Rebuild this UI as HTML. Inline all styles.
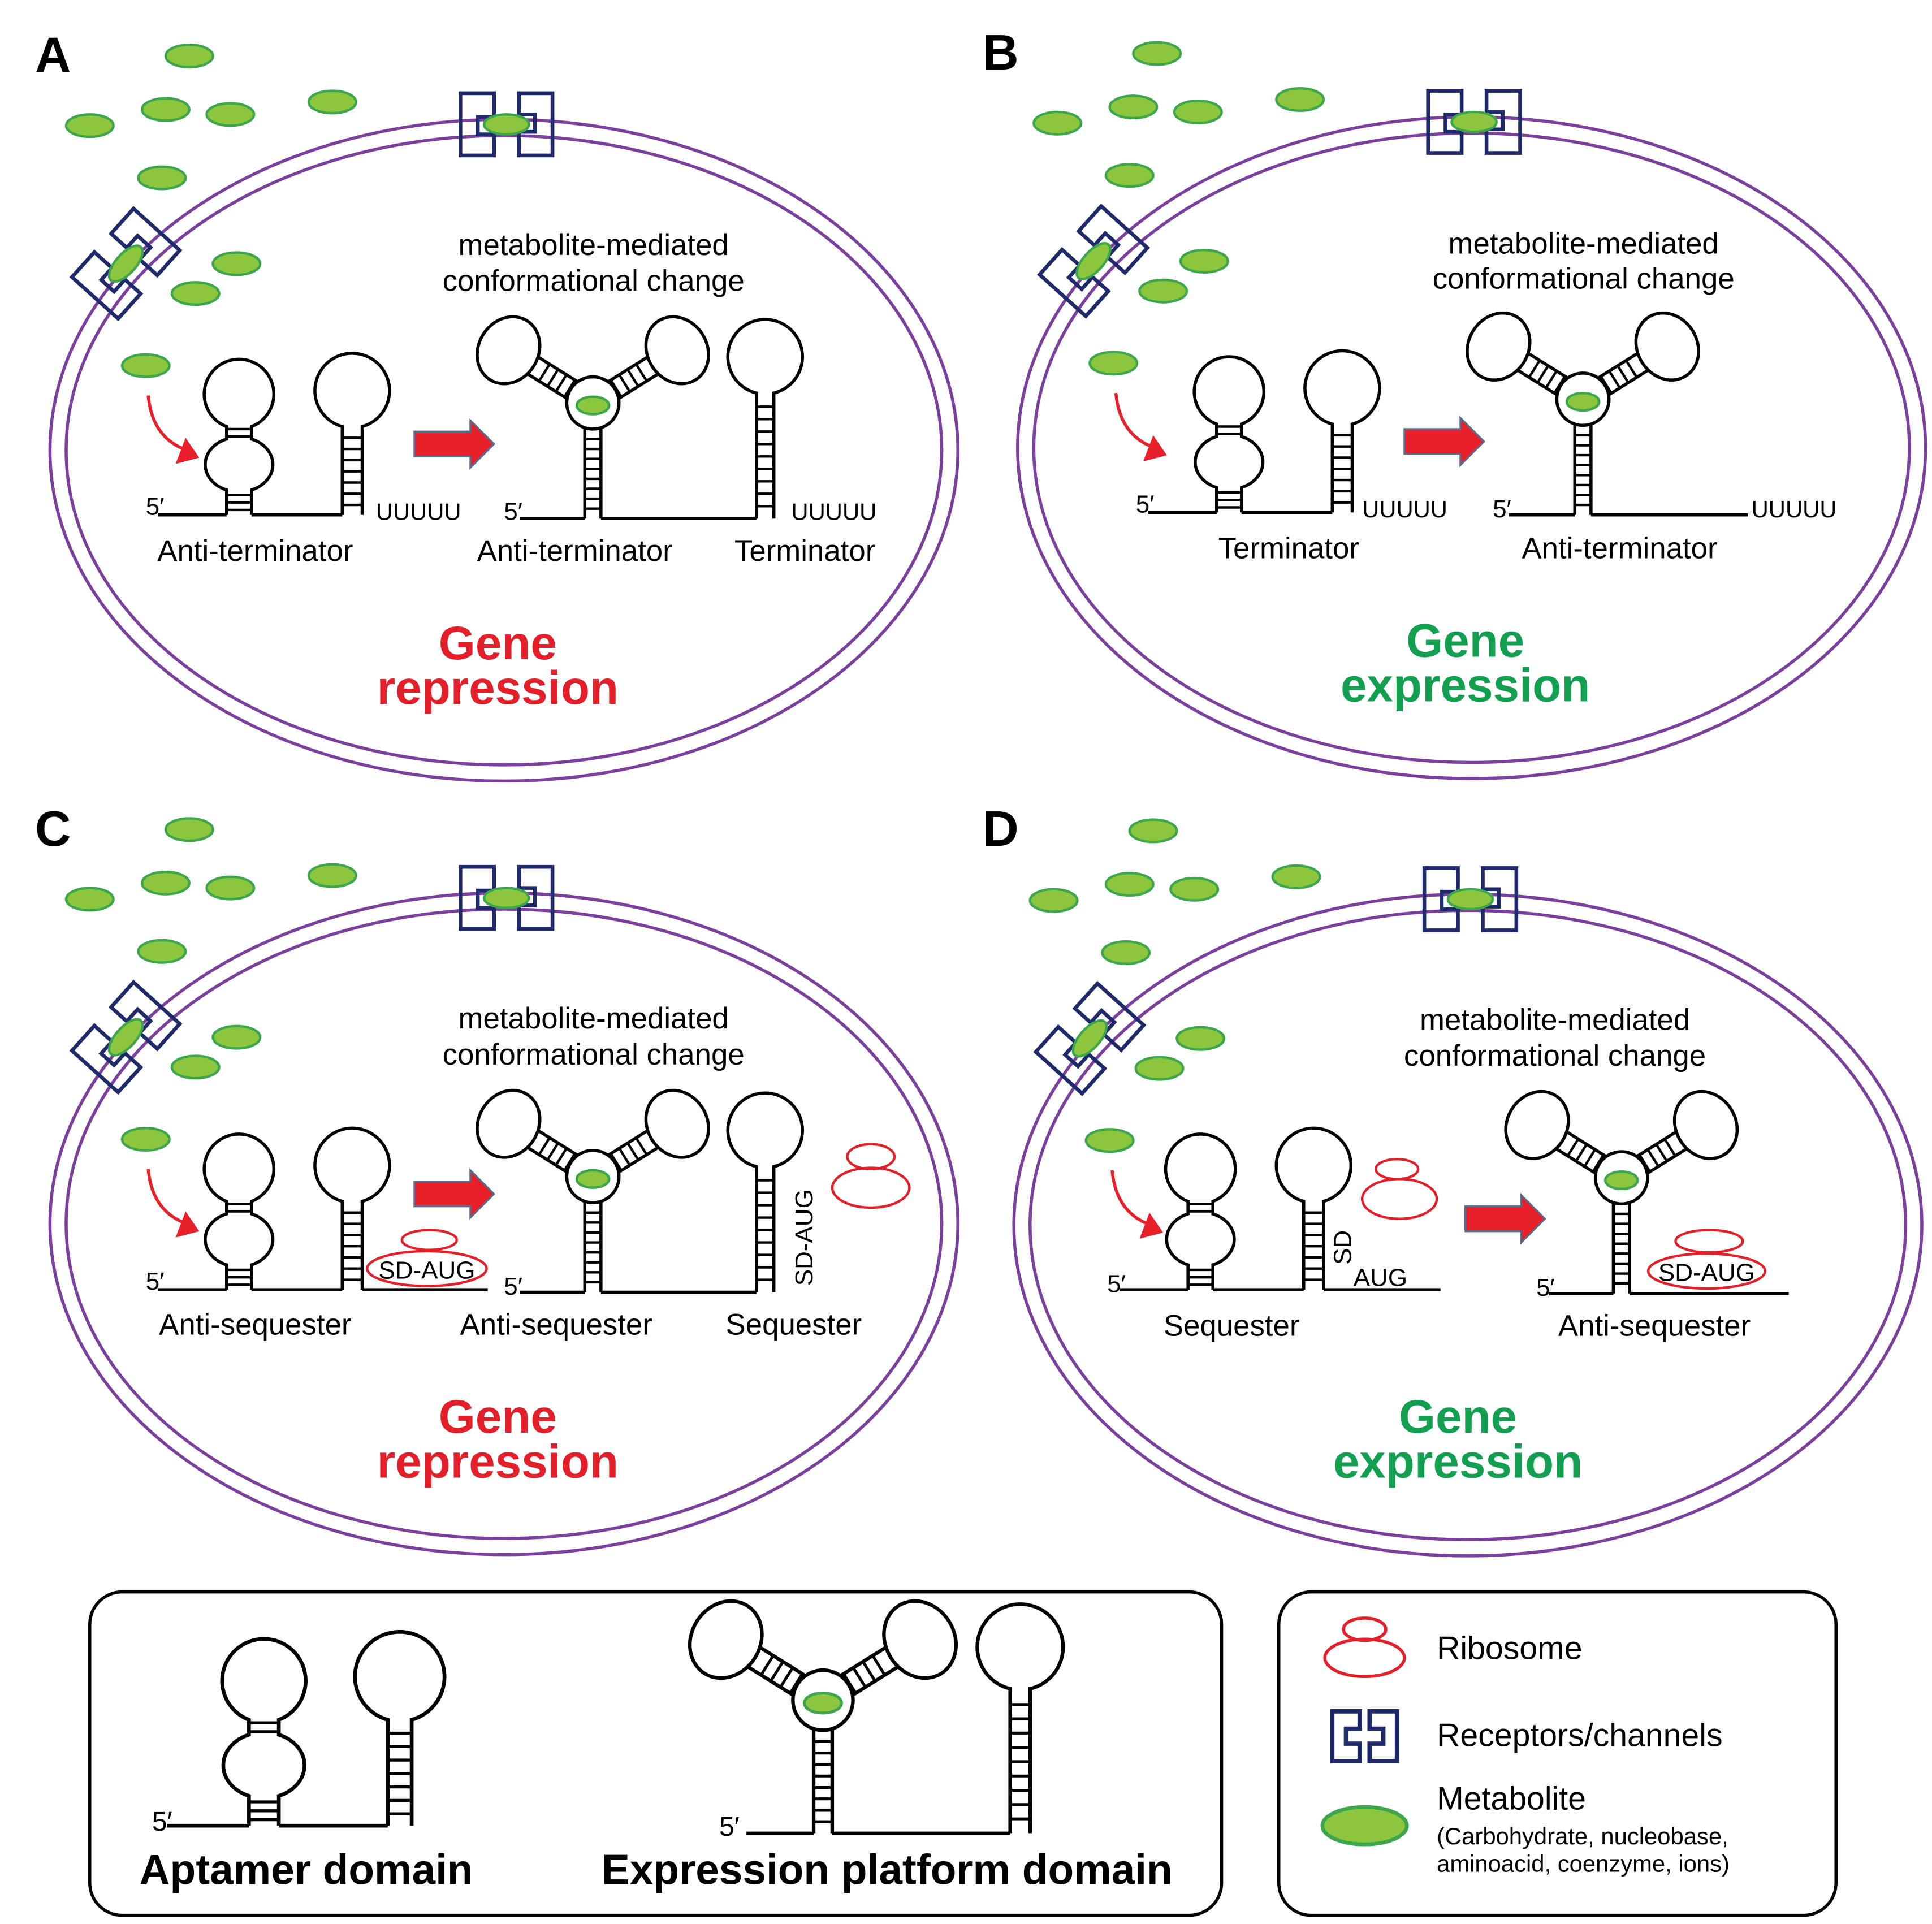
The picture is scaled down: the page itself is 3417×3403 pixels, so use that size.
<!DOCTYPE html>
<html><head><meta charset="utf-8"><style>
html,body{margin:0;padding:0;background:#fff;}
svg{display:block;}
text{font-family:"Liberation Sans",sans-serif;}
</style></head><body>
<svg width="3417" height="3403" viewBox="0 0 1553 1547" xmlns="http://www.w3.org/2000/svg">
<defs>
<g id="met"><ellipse cx="0" cy="0" rx="19" ry="9" fill="#8cc63f" stroke="#3da64a" stroke-width="2"/></g>
<g id="rec">
 <path d="M-10,-25 H-37 V25 H-10 V8 H-23 V-6 H-10 Z" fill="none" stroke="#1f2a6b" stroke-width="3"/>
 <path d="M10,-25 H37 V25 H10 V6 H23 V-8 H10 Z" fill="none" stroke="#1f2a6b" stroke-width="3"/>
 <ellipse cx="0" cy="0" rx="18" ry="8" fill="#8cc63f" stroke="#3da64a" stroke-width="2"/>
</g>
<g id="cell">
 <ellipse cx="405" cy="362" rx="365" ry="266" fill="none" stroke="#7b3f9e" stroke-width="2.5"/>
 <ellipse cx="405" cy="362" rx="352" ry="253" fill="none" stroke="#7b3f9e" stroke-width="2.5"/>
 <use href="#rec" transform="translate(407,100)"/>
 <use href="#rec" transform="translate(101,212) rotate(-48)"/>
 <use href="#met" x="152" y="45"/><use href="#met" x="72" y="101"/><use href="#met" x="133" y="88"/>
 <use href="#met" x="185" y="92"/><use href="#met" x="267" y="82"/><use href="#met" x="130" y="143"/>
 <use href="#met" x="190" y="212"/><use href="#met" x="157" y="236"/><use href="#met" x="117" y="294"/>
 <path d="M119,318 Q122,352 150,362" fill="none" stroke="#e8202a" stroke-width="2.5"/>
 <polygon points="160,368 141,373 149,352" fill="#e8202a"/>
</g>
<g id="bigarrow">
 <polygon points="0,-10 45,-10 45,-19 64,0 45,19 45,10 0,10" fill="#e8202a" stroke="#5a6a8a" stroke-width="1.5"/>
</g>
<g id="apt" fill="none" stroke="#000" stroke-width="2.5">
 <path d="M0,0 V-20 A27,22 0 0 1 0,-61 V-71 A28,28 0 1 1 20,-71 V-61 A27,22 0 0 1 20,-20 V0"/>
 <path d="M0,-69 H20 M0,-63 H20 M0,-16 H20 M0,-10 H20 M0,-4 H20" stroke-width="2"/>
 <path d="M-55,0 H0 M20,0 H93"/>
 <path d="M93,0 V-71 A30,30 0 1 1 109,-71 V0"/>
 <path d="M93,-62 H109 M93,-53 H109 M93,-44 H109 M93,-35 H109 M93,-26 H109 M93,-17 H109 M93,-8 H109" stroke-width="2"/>
</g>
<g id="arm" fill="none" stroke="#000" stroke-width="2.5">
 <path d="M15,-8 H62 M15,8 H62"/>
 <path d="M22,-8 V8 M30,-8 V8 M38,-8 V8 M46,-8 V8" stroke-width="2"/>
 <ellipse cx="80" cy="0" rx="24" ry="28" fill="#fff"/>
</g>
<g id="ystr" fill="none" stroke="#000" stroke-width="2.5">
 <use href="#arm" transform="translate(6.5,-93) rotate(-148)"/>
 <use href="#arm" transform="translate(6.5,-93) rotate(-32)"/>
 <circle cx="6.5" cy="-93" r="21" fill="#fff"/>
 <ellipse cx="6.5" cy="-91" rx="13" ry="7" fill="#8cc63f" stroke="#3da64a" stroke-width="2"/>
 <path d="M0,0 V-73 M13,0 V-73"/>
 <path d="M0,-8 H13 M0,-16 H13 M0,-24 H13 M0,-32 H13 M0,-40 H13 M0,-48 H13 M0,-56 H13 M0,-64 H13" stroke-width="2"/>
</g>
<g id="hp" fill="none" stroke="#000" stroke-width="2.5">
 <path d="M0,0 V-101 A30,30 0 1 1 14,-101 V0"/>
 <path d="M0,-10 H14 M0,-20 H14 M0,-30 H14 M0,-40 H14 M0,-50 H14 M0,-60 H14 M0,-70 H14 M0,-80 H14 M0,-90 H14" stroke-width="2"/>
</g>
</defs>
<rect width="1553" height="1547" fill="#fff"/>

<!-- Panel A -->
<use href="#cell"/>
<text x="28" y="58" font-size="40" font-weight="bold">A</text>
<text x="477" y="205" font-size="24" text-anchor="middle">metabolite-mediated</text>
<text x="477" y="234" font-size="24" text-anchor="middle">conformational change</text>
<use href="#apt" transform="translate(182,414)"/>
<text x="117" y="414" font-size="20">5′</text>
<text x="302" y="418" font-size="19">UUUUU</text>
<use href="#bigarrow" transform="translate(333,357)"/>
<use href="#ystr" transform="translate(470,417)"/>
<path d="M418,417 H470 M483,417 H608" stroke="#000" stroke-width="2.5"/>
<text x="405" y="418" font-size="20">5′</text>
<use href="#hp" transform="translate(608,417)"/>
<text x="636" y="418" font-size="19">UUUUU</text>
<text x="205" y="451" font-size="24" text-anchor="middle">Anti-terminator</text>
<text x="462" y="451" font-size="24" text-anchor="middle">Anti-terminator</text>
<text x="647" y="451" font-size="24" text-anchor="middle">Terminator</text>
<text x="400" y="530" font-size="38" font-weight="bold" fill="#e3202a" text-anchor="middle">Gene</text>
<text x="400" y="566" font-size="38" font-weight="bold" fill="#e3202a" text-anchor="middle">repression</text>

<!-- Panel B -->
<use href="#cell" transform="translate(778,-2)"/>
<text x="790" y="56" font-size="40" font-weight="bold">B</text>
<text x="1273" y="204" font-size="24" text-anchor="middle">metabolite-mediated</text>
<text x="1273" y="232" font-size="24" text-anchor="middle">conformational change</text>
<use href="#apt" transform="translate(978,412)"/>
<text x="913" y="412" font-size="20">5′</text>
<text x="1095" y="416" font-size="19">UUUUU</text>
<use href="#bigarrow" transform="translate(1129,355)"/>
<use href="#ystr" transform="translate(1266,414)"/>
<path d="M1213,414 H1266 M1279,414 H1405" stroke="#000" stroke-width="2.5"/>
<text x="1200" y="416" font-size="20">5′</text>
<text x="1408" y="416" font-size="19">UUUUU</text>
<text x="1036" y="449" font-size="24" text-anchor="middle">Terminator</text>
<text x="1302" y="449" font-size="24" text-anchor="middle">Anti-terminator</text>
<text x="1178" y="528" font-size="38" font-weight="bold" fill="#12a050" text-anchor="middle">Gene</text>
<text x="1178" y="564" font-size="38" font-weight="bold" fill="#12a050" text-anchor="middle">expression</text>

<!-- Panel C -->
<use href="#cell" transform="translate(0,622)"/>
<text x="28" y="680" font-size="40" font-weight="bold">C</text>
<text x="477" y="827" font-size="24" text-anchor="middle">metabolite-mediated</text>
<text x="477" y="856" font-size="24" text-anchor="middle">conformational change</text>
<use href="#apt" transform="translate(182,1037)"/>
<path d="M291,1037 H392" stroke="#000" stroke-width="2.5"/>
<text x="117" y="1037" font-size="20">5′</text>
<ellipse cx="345" cy="997" rx="22" ry="8" fill="none" stroke="#e3202a" stroke-width="2"/>
<ellipse cx="343" cy="1020" rx="48" ry="14" fill="none" stroke="#e3202a" stroke-width="2"/>
<text x="343" y="1028" font-size="20" text-anchor="middle">SD-AUG</text>
<use href="#bigarrow" transform="translate(333,960)"/>
<use href="#ystr" transform="translate(470,1039)"/>
<path d="M418,1039 H470 M483,1039 H608" stroke="#000" stroke-width="2.5"/>
<text x="405" y="1041" font-size="20">5′</text>
<use href="#hp" transform="translate(608,1039)"/>
<text transform="translate(653,995) rotate(-90)" font-size="20" text-anchor="middle">SD-AUG</text>
<ellipse cx="700" cy="930" rx="19" ry="10" fill="none" stroke="#e3202a" stroke-width="2"/>
<ellipse cx="700" cy="955" rx="31" ry="16" fill="none" stroke="#e3202a" stroke-width="2"/>
<text x="205" y="1073" font-size="24" text-anchor="middle">Anti-sequester</text>
<text x="447" y="1073" font-size="24" text-anchor="middle">Anti-sequester</text>
<text x="638" y="1073" font-size="24" text-anchor="middle">Sequester</text>
<text x="400" y="1152" font-size="38" font-weight="bold" fill="#e3202a" text-anchor="middle">Gene</text>
<text x="400" y="1188" font-size="38" font-weight="bold" fill="#e3202a" text-anchor="middle">repression</text>

<!-- Panel D -->
<use href="#cell" transform="translate(775,623)"/>
<text x="790" y="680" font-size="40" font-weight="bold">D</text>
<text x="1250" y="828" font-size="24" text-anchor="middle">metabolite-mediated</text>
<text x="1250" y="857" font-size="24" text-anchor="middle">conformational change</text>
<use href="#apt" transform="translate(955,1037)"/>
<path d="M1064,1037 H1158" stroke="#000" stroke-width="2.5"/>
<text x="890" y="1039" font-size="20">5′</text>
<text transform="translate(1086,1003) rotate(-90)" font-size="20" text-anchor="middle">SD</text>
<text x="1088" y="1034" font-size="20">AUG</text>
<ellipse cx="1123" cy="940" rx="17" ry="8" fill="none" stroke="#e3202a" stroke-width="2"/>
<ellipse cx="1125" cy="964" rx="30" ry="16" fill="none" stroke="#e3202a" stroke-width="2"/>
<use href="#bigarrow" transform="translate(1178,980)"/>
<use href="#ystr" transform="translate(1297,1040)"/>
<path d="M1245,1040 H1297 M1310,1040 H1438" stroke="#000" stroke-width="2.5"/>
<text x="1235" y="1042" font-size="20">5′</text>
<ellipse cx="1374" cy="998" rx="27" ry="9" fill="none" stroke="#e3202a" stroke-width="2"/>
<ellipse cx="1372" cy="1022" rx="47" ry="14" fill="none" stroke="#e3202a" stroke-width="2"/>
<text x="1372" y="1030" font-size="20" text-anchor="middle">SD-AUG</text>
<text x="990" y="1074" font-size="24" text-anchor="middle">Sequester</text>
<text x="1330" y="1074" font-size="24" text-anchor="middle">Anti-sequester</text>
<text x="1172" y="1152" font-size="38" font-weight="bold" fill="#12a050" text-anchor="middle">Gene</text>
<text x="1172" y="1188" font-size="38" font-weight="bold" fill="#12a050" text-anchor="middle">expression</text>

<!-- Legend 1 -->
<rect x="72" y="1280" width="910" height="260" rx="26" fill="none" stroke="#000" stroke-width="2.5"/>
<use href="#apt" transform="translate(200,1468) scale(1.2)"/>
<text x="122" y="1472" font-size="22">5′</text>
<text x="246" y="1515" font-size="34" font-weight="bold" text-anchor="middle">Aptamer domain</text>
<use href="#ystr" transform="translate(654,1474) scale(1.15)"/>
<use href="#hp" transform="translate(812,1474) scale(1.15)"/>
<path d="M600,1474 H654 M669,1474 H812" stroke="#000" stroke-width="2.5"/>
<text x="578" y="1476" font-size="22">5′</text>
<text x="713" y="1515" font-size="34" font-weight="bold" text-anchor="middle">Expression platform domain</text>

<!-- Legend 2 -->
<rect x="1028" y="1280" width="448" height="260" rx="26" fill="none" stroke="#000" stroke-width="2.5"/>
<ellipse cx="1097" cy="1310" rx="17" ry="9" fill="none" stroke="#e3202a" stroke-width="2.5"/>
<ellipse cx="1097" cy="1333" rx="32" ry="15" fill="none" stroke="#e3202a" stroke-width="2.5"/>
<text x="1155" y="1334" font-size="26">Ribosome</text>
<g transform="translate(1097,1396)" fill="none" stroke="#1f2a6b" stroke-width="3.5">
 <path d="M-4,-20 H-26 V20 H-4 V6 H-15 V-6 H-4 Z"/>
 <path d="M4,-20 H26 V20 H4 V6 H15 V-6 H4 Z"/>
</g>
<text x="1155" y="1404" font-size="26">Receptors/channels</text>
<ellipse cx="1097" cy="1468" rx="34" ry="15" fill="#8cc63f" stroke="#3da64a" stroke-width="3"/>
<text x="1155" y="1455" font-size="26">Metabolite</text>
<text x="1155" y="1483" font-size="19">(Carbohydrate, nucleobase,</text>
<text x="1155" y="1505" font-size="19">aminoacid, coenzyme, ions)</text>
</svg>
</body></html>
